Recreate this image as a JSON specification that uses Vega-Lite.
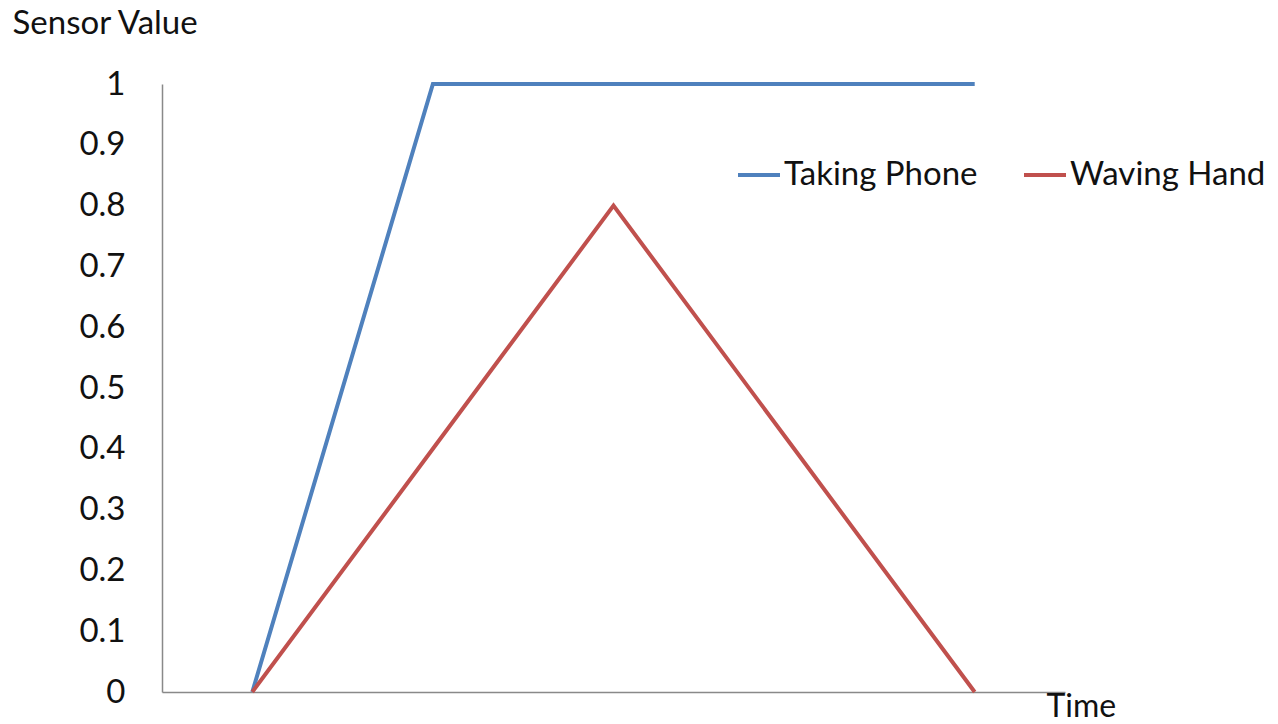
{
  "$schema": "https://vega.github.io/schema/vega-lite/v6.json",
  "autosize": {"type": "none"},
  "padding": {"left": 162, "top": 84, "right": 213, "bottom": 32},
  "width": 903,
  "height": 608,
  "background": "white",
  "config": {
    "view": {"stroke": null},
    "font": "Lato"
  },
  "data": {
    "values": [
      {"series": "Taking Phone", "t": 0, "value": 0},
      {"series": "Taking Phone", "t": 1, "value": 1},
      {"series": "Taking Phone", "t": 2, "value": 1},
      {"series": "Taking Phone", "t": 3, "value": 1},
      {"series": "Taking Phone", "t": 4, "value": 1},
      {"series": "Waving Hand", "t": 0, "value": 0},
      {"series": "Waving Hand", "t": 1, "value": 0.4},
      {"series": "Waving Hand", "t": 2, "value": 0.8},
      {"series": "Waving Hand", "t": 3, "value": 0.4},
      {"series": "Waving Hand", "t": 4, "value": 0}
    ]
  },
  "mark": {"type": "line", "strokeWidth": 4, "strokeJoin": "miter"},
  "encoding": {
    "x": {
      "field": "t",
      "type": "quantitative",
      "scale": {"domain": [-0.5, 4.5], "nice": false, "zero": false},
      "axis": {
        "title": "Time",
        "labels": false,
        "ticks": false,
        "grid": false,
        "domainColor": "#898989",
        "domainWidth": 1.5,
        "titleFont": "Lato",
        "titleFontSize": 32,
        "titleFontWeight": "normal",
        "titleColor": "#111",
        "titleAlign": "left",
        "titleBaseline": "alphabetic",
        "titleAnchor": "start",
        "titleX": 884,
        "titleY": 24
      }
    },
    "y": {
      "field": "value",
      "type": "quantitative",
      "scale": {"domain": [0, 1], "nice": false},
      "axis": {
        "title": "Sensor Value",
        "values": [0, 0.1, 0.2, 0.3, 0.4, 0.5, 0.6, 0.7, 0.8, 0.9, 1],
        "format": "~g",
        "ticks": false,
        "grid": false,
        "domainColor": "#898989",
        "domainWidth": 1.5,
        "labelFont": "Lato",
        "labelFontSize": 33,
        "labelColor": "#111",
        "labelPadding": 37,
        "titleFont": "Lato",
        "titleFontSize": 33,
        "titleFontWeight": "normal",
        "titleColor": "#111",
        "titleAngle": 0,
        "titleAlign": "left",
        "titleBaseline": "alphabetic",
        "titleX": -150,
        "titleY": -51
      }
    },
    "color": {
      "field": "series",
      "type": "nominal",
      "scale": {"domain": ["Taking Phone", "Waving Hand"], "range": ["#4F81BD", "#C0504D"]},
      "legend": {
        "title": null,
        "orient": "none",
        "direction": "horizontal",
        "legendX": 574,
        "legendY": 68,
        "symbolType": "stroke",
        "symbolStrokeWidth": 4,
        "symbolSize": 1764,
        "labelFont": "Lato",
        "labelFontSize": 33,
        "labelLimit": 0,
        "labelColor": "#111",
        "labelOffset": 2,
        "columnPadding": 38
      }
    }
  }
}
